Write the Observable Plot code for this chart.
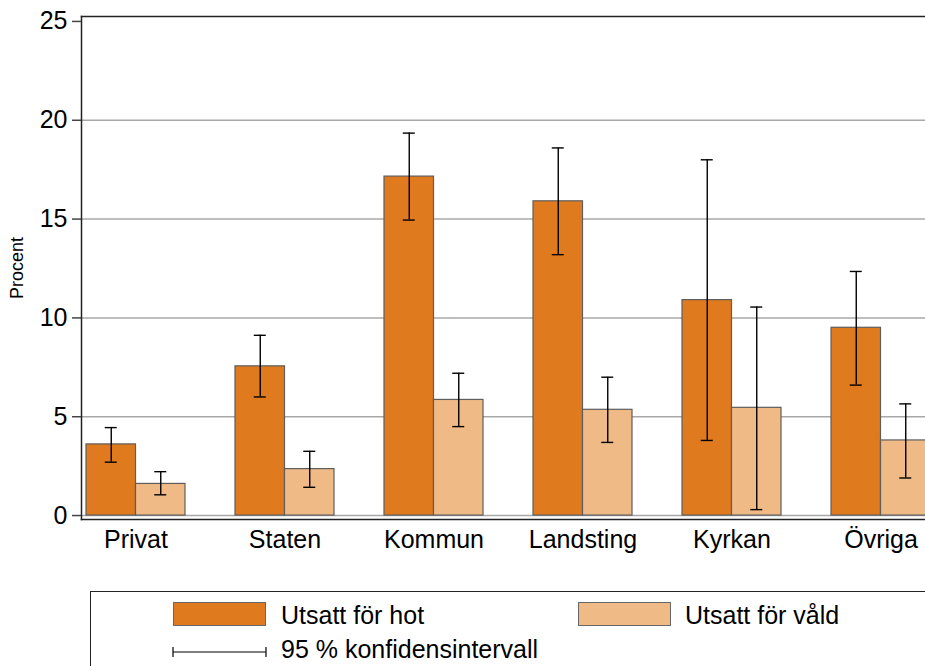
<!DOCTYPE html>
<html>
<head>
<meta charset="utf-8">
<script src="https://cdn.jsdelivr.net/npm/d3@7"></script>
<script src="https://cdn.jsdelivr.net/npm/@observablehq/plot@0.6"></script>
<style>
  html, body { margin: 0; padding: 0; background: #fff; overflow: hidden; width: 925px; height: 666px; }
  body { font-family: "Liberation Sans", Arial, sans-serif; position: relative; }
  #legend { position: absolute; left: 90px; top: 591px; width: 900px; height: 120px; border: 1.5px solid #222; box-sizing: border-box; }
  .sw { position: absolute; width: 93px; height: 24px; border: 1px solid #666; box-sizing: border-box; }
  .lt { position: absolute; font-size: 25px; color: #000; line-height: 1; white-space: nowrap; }
</style>
</head>
<body>
<div id="chart"></div>
<div id="legend"></div>
<script>
const categories = ["Privat", "Staten", "Kommun", "Landsting", "Kyrkan", "Övriga"];
const seriesNames = ["Utsatt för hot", "Utsatt för våld"];
const hot = [3.6, 7.55, 17.15, 15.9, 10.9, 9.5];
const hotLow = [2.7, 6.0, 14.95, 13.2, 3.8, 6.6];
const hotHigh = [4.45, 9.12, 19.35, 18.6, 18.0, 12.35];
const vald = [1.6, 2.35, 5.85, 5.35, 5.45, 3.8];
const valdLow = [1.05, 1.43, 4.5, 3.7, 0.3, 1.9];
const valdHigh = [2.22, 3.25, 7.2, 7.0, 10.55, 5.65];
const yTicks = [0, 5, 10, 15, 20, 25];
const gridTicks = [0, 5, 10, 15, 20];
const ciLabel = "95 % konfidensintervall";
const yLabel = "Procent";

const colors = ["#E07A1F", "#F0BA87"];

const rows = [];
categories.forEach((c, i) => {
  rows.push({cat: c, series: seriesNames[0], value: hot[i], lo: hotLow[i], hi: hotHigh[i]});
  rows.push({cat: c, series: seriesNames[1], value: vald[i], lo: valdLow[i], hi: valdHigh[i]});
});

const W = 925, H = 580;
const xRange = [81, 935];
const padIn = 0.3356, padOut = 0.0335;
const bw = d3.scaleBand().domain(categories).range(xRange).paddingInner(padIn).paddingOuter(padOut).bandwidth();
const half = bw / 2;
const capHalf = 6;

const hotRows = rows.filter(d => d.series === seriesNames[0]);
const valdRows = rows.filter(d => d.series === seriesNames[1]);

const chart = Plot.plot({
  width: W,
  height: H,
  marginTop: 16,
  marginLeft: 81,
  marginRight: 0,
  marginBottom: H - 519,
  style: {fontFamily: "Liberation Sans, Arial, sans-serif", background: "#fff", overflow: "hidden", maxWidth: "none"},
  x: {domain: categories, range: xRange, paddingInner: padIn, paddingOuter: padOut, align: 0.5},
  y: {domain: [-0.2, 25.25], range: [519, 16]},
  color: {domain: seriesNames, range: colors},
  marks: [
    Plot.ruleY(gridTicks, {y: d => d, stroke: "#a8a8a8", strokeWidth: 1.5}),
    Plot.barY(hotRows, {x: "cat", y1: 0, y2: "value", fill: "series", stroke: "#5e5e5e", strokeWidth: 1.2, insetRight: half}),
    Plot.barY(valdRows, {x: "cat", y1: 0, y2: "value", fill: "series", stroke: "#5e5e5e", strokeWidth: 1.2, insetLeft: half}),
    Plot.ruleX(hotRows, {x: "cat", y1: "lo", y2: "hi", stroke: "#000", strokeWidth: 1.4, dx: -half / 2}),
    Plot.ruleX(valdRows, {x: "cat", y1: "lo", y2: "hi", stroke: "#000", strokeWidth: 1.4, dx: half / 2}),
    Plot.tickY(hotRows, {x: "cat", y: "lo", stroke: "#000", strokeWidth: 1.4, insetLeft: half / 2 - capHalf, insetRight: half + half / 2 - capHalf}),
    Plot.tickY(hotRows, {x: "cat", y: "hi", stroke: "#000", strokeWidth: 1.4, insetLeft: half / 2 - capHalf, insetRight: half + half / 2 - capHalf}),
    Plot.tickY(valdRows, {x: "cat", y: "lo", stroke: "#000", strokeWidth: 1.4, insetLeft: half + half / 2 - capHalf, insetRight: half / 2 - capHalf}),
    Plot.tickY(valdRows, {x: "cat", y: "hi", stroke: "#000", strokeWidth: 1.4, insetLeft: half + half / 2 - capHalf, insetRight: half / 2 - capHalf}),
    Plot.frame({anchor: "left", stroke: "#222", strokeWidth: 1.5}),
    Plot.frame({anchor: "top", stroke: "#222", strokeWidth: 1.5}),
    Plot.frame({anchor: "bottom", stroke: "#222", strokeWidth: 1.5}),
    Plot.axisY({ticks: yTicks, tickSize: 9, tickPadding: 5, fontSize: 25, stroke: "#444", strokeWidth: 1.5, label: null, color: "#000"}),
    Plot.axisX({tickSize: 0, tickPadding: 11, fontSize: 25, label: null, color: "#000"}),
    Plot.text([yLabel], {frameAnchor: "left", textAnchor: "middle", rotate: -90, dx: -64, fontSize: 18, fill: "#000"})
  ]
});
document.getElementById("chart").appendChild(chart);

// Legend
const legend = document.getElementById("legend");
function addSwatch(x, y, color) {
  const s = document.createElement("div");
  s.className = "sw";
  s.style.left = (x - 90) + "px";
  s.style.top = (y - 591) + "px";
  s.style.background = color;
  legend.appendChild(s);
}
function addText(x, y, txt) {
  const t = document.createElement("div");
  t.className = "lt";
  t.style.left = (x - 90) + "px";
  t.style.top = (y - 591) + "px";
  t.textContent = txt;
  legend.appendChild(t);
}
addSwatch(172, 601, colors[0]);
addText(280, 602, seriesNames[0]);
addSwatch(577, 601, colors[1]);
addText(684, 602, seriesNames[1]);
// CI symbol
const ns = "http://www.w3.org/2000/svg";
const ci = document.createElementNS(ns, "svg");
ci.setAttribute("width", 100); ci.setAttribute("height", 16);
ci.style.position = "absolute"; ci.style.left = (170 - 90) + "px"; ci.style.top = (643 - 591) + "px";
ci.innerHTML = '<line x1="2" x2="95" y1="8" y2="8" stroke="#000" stroke-width="1.2"/><line x1="2" x2="2" y1="3" y2="13" stroke="#000" stroke-width="1.2"/><line x1="95" x2="95" y1="3" y2="13" stroke="#000" stroke-width="1.2"/>';
legend.appendChild(ci);
addText(280, 636, ciLabel);
</script>
</body>
</html>
